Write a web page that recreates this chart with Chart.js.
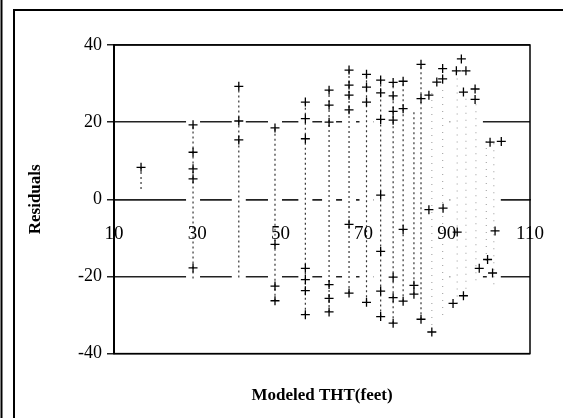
<!DOCTYPE html>
<html>
<head>
<meta charset="utf-8">
<script src="https://cdn.jsdelivr.net/npm/chart.js@4.4.0/dist/chart.umd.min.js"></script>
<style>
  html, body { margin: 0; padding: 0; background: #fff; }
  #wrap { width: 563px; height: 418px; }
</style>
</head>
<body>
<div id="wrap"><canvas id="residuals"></canvas></div>
<script>
const xTicks = [10, 30, 50, 70, 90, 110];
const yTicks = [-40, -20, 0, 20, 40];

// "+" markers
const plusX = [16.5, 29, 29, 29, 29, 29, 40, 40, 40, 48.7, 48.7, 48.7, 48.7,
  56, 56, 56, 56, 56, 56, 56, 61.7, 61.7, 61.7, 61.7, 61.7, 61.7,
  66.5, 66.5, 66.5, 66.5, 66.5, 66.5, 70.7, 70.7, 70.7, 70.7,
  74.1, 74.1, 74.1, 74.1, 74.1, 74.1, 74.1, 77.1, 77.1, 77.1, 77.1, 77.1, 77.1, 77.1,
  79.5, 79.5, 79.5, 79.5, 82.1, 82.1, 83.8, 83.8, 83.8, 85.7, 85.7, 86.4, 87.6,
  89, 89, 89.1, 92.3, 93.5, 94.6, 92.5, 91.5, 94, 94, 96.8, 96.8,
  97.8, 99.8, 101, 101.6, 100.4, 103.1];
const plusY = [8.3, 19.3, 12.2, 7.9, 5.3, -17.8, 29.3, 20.3, 15.4, 18.5, -11.7, -22.5, -26.3,
  25.2, 20.9, 15.7, -17.9, -20.8, -23.7, -29.9, 28.3, 24.4, 20.0, -22.1, -25.7, -29.2,
  33.5, 29.6, 27, 23.2, -6.5, -24.3, 32.4, 29.1, 25.2, -26.7,
  30.9, 27.6, 20.7, 1.1, -13.5, -23.8, -30.4, 30.3, 26.8, 22.8, 20.5, -20.2, -25.5, -32.1,
  30.6, 23.5, -7.8, -26.4, -22.3, -24.6, 35, 26.1, -31.1, -2.7, 27, -34.4, 30.4,
  33.9, 31.2, -2.3, 33.3, 36.4, 33.3, -8.5, -27, -25, 27.8, 28.6, 25.9,
  -17.9, -15.6, -19.1, -8.2, 14.8, 15];

// dotted columns
const colX = [16.5, 29, 40, 48.7, 56, 61.7, 66.5, 70.7, 74.1, 77.1, 79.5, 82.1,
  83.8, 86.4, 89, 92.5, 94.6, 97, 99.5, 101.3];
const colLow = [2.7, -20.5, -20.3, -26.3, -29.9, -29.2, -24.3, -26.7, -30.4, -32.1, -26.4, -24.6,
  -31.1, -34.4, -30, -27, -25, -21, -16, -22];
const colHigh = [8.3, 19.3, 29.3, 18.5, 25.2, 28.3, 33.5, 32.4, 30.9, 30.3, 30.6, 23,
  35, 28, 31, 33, 28, 26, 16, 14.5];

const serif = 'Liberation Serif';
Chart.defaults.font.family = serif;
Chart.defaults.color = '#000';

const masks = colX.map((x, i) => ({
  type: 'line',
  data: [{x: x, y: colLow[i] - 2.5}, {x: x, y: colHigh[i] + 2.5}],
  borderColor: '#fff',
  borderWidth: 14,
  borderCapStyle: 'butt',
  pointRadius: 0,
  order: 3
}));

const dots = colX.map((x, i) => ({
  type: 'line',
  data: [{x: x, y: colLow[i]}, {x: x, y: colHigh[i]}],
  borderColor: x > 84 ? '#aaa' : '#333',
  borderWidth: 1.2,
  borderDash: x > 84 ? [1, 6] : [2, 3],
  pointRadius: 0,
  order: 2
}));

const pluses = {
  type: 'scatter',
  data: plusX.map((x, i) => ({x: x, y: plusY[i]})),
  pointStyle: 'cross',
  pointRadius: 4.5,
  borderColor: '#000',
  borderWidth: 1.3,
  order: 1
};

const framePlugin = {
  id: 'frame',
  afterDraw(chart) {
    const {ctx, chartArea: a} = chart;
    ctx.save();
    ctx.strokeStyle = '#000';
    ctx.lineWidth = 1.5;
    ctx.strokeRect(a.left, a.top, a.right - a.left, a.bottom - a.top);
    ctx.lineWidth = 2;
    ctx.strokeRect(14, 10, 600, 500);
    ctx.beginPath();
    ctx.moveTo(1.5, 0);
    ctx.lineTo(1.5, 418);
    ctx.stroke();
    ctx.restore();
  }
};

new Chart(document.getElementById('residuals'), {
  type: 'scatter',
  data: { datasets: [pluses, ...dots, ...masks] },
  options: {
    responsive: true,
    maintainAspectRatio: false,
    animation: false,
    layout: { padding: { left: 20, top: 45, right: 33, bottom: 12 } },
    plugins: {
      legend: { display: false },
      tooltip: { enabled: false },
      title: {
        display: true,
        position: 'bottom',
        fullSize: false,
        text: 'Modeled THT(feet)',
        color: '#000',
        font: { family: serif, size: 17, weight: 'bold' },
        padding: { top: 32, bottom: 0 }
      }
    },
    scales: {
      x: {
        type: 'linear',
        position: { y: 0 },
        min: 10,
        max: 110,
        afterBuildTicks: s => { s.ticks = xTicks.map(v => ({ value: v })); },
        afterFit: s => { s.height = 0; s.paddingLeft = 0; s.paddingRight = 0; },
        grid: { display: false, drawTicks: false },
        border: { display: true, color: '#222', width: 1.5 },
        ticks: { color: '#000', font: { size: 19 }, padding: 23, z: 1, maxRotation: 0 }
      },
      y: {
        min: -40,
        max: 40,
        afterBuildTicks: s => { s.ticks = yTicks.map(v => ({ value: v })); },
        afterFit: s => { s.width = 94; },
        grid: { color: '#222', lineWidth: 1.5, tickLength: 7 },
        border: { color: '#000', width: 2 },
        ticks: { color: '#000', font: { size: 18 }, padding: 5 },
        title: {
          display: true,
          text: 'Residuals',
          color: '#000',
          font: { family: serif, size: 17, weight: 'bold' },
          padding: { top: 5, bottom: 0 }
        }
      }
    }
  },
  plugins: [framePlugin]
});
</script>
</body>
</html>
